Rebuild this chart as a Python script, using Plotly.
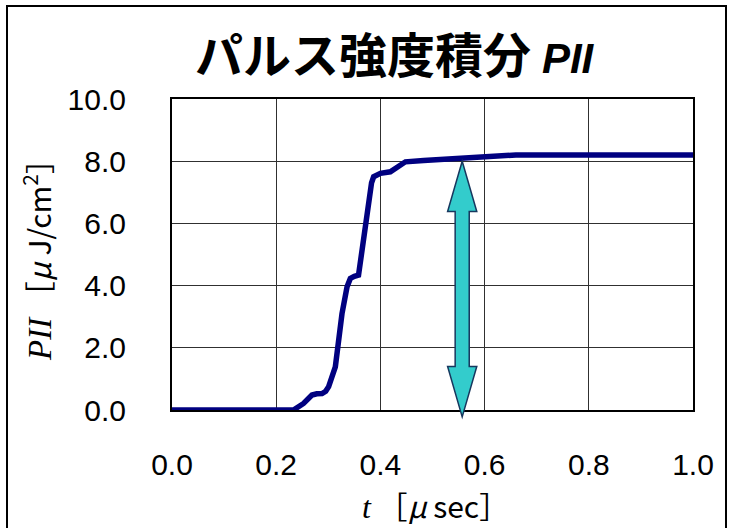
import plotly.graph_objects as go

# ---- data ----
t_usec = [0.0, 0.233, 0.2525, 0.262, 0.2686, 0.278, 0.288, 0.295, 0.3007, 0.3135, 0.320,
          0.3263, 0.336, 0.3423, 0.350, 0.358, 0.3648, 0.371, 0.3776, 0.383, 0.387, 0.393,
          0.40, 0.419, 0.432, 0.448, 0.483, 0.535, 0.56, 0.6025, 0.64, 0.66, 0.8, 1.0]
pii = [0.0, 0.0, 0.21, 0.38, 0.48, 0.52, 0.53, 0.60, 0.75, 1.39, 2.25,
       3.10, 3.96, 4.23, 4.30, 4.34, 5.14, 6.00, 6.86, 7.30, 7.50, 7.57,
       7.61, 7.66, 7.82, 7.98, 8.02, 8.06, 8.09, 8.14, 8.18, 8.20, 8.20, 8.20]

x_ticks = [0.0, 0.2, 0.4, 0.6, 0.8, 1.0]
x_tick_labels = ["0.0", "0.2", "0.4", "0.6", "0.8", "1.0"]
y_ticks = [0, 2, 4, 6, 8, 10]
y_tick_labels = ["0.0", "2.0", "4.0", "6.0", "8.0", "10.0"]

x_range = [0.0, 1.0]
y_range = [0.0, 10.0]

# double arrow annotation (data units)
arrow_t = 0.557
arrow_top = 8.0
arrow_bottom = -0.22
arrow_head_len = 1.62
arrow_head_halfw = 0.028
arrow_shaft_halfw = 0.0135

W, H = 731, 528
L, R, T, B = 172, 38, 99, 118
pw, ph = W - L - R, H - T - B

fig = go.Figure()
fig.add_trace(go.Scatter(x=t_usec, y=pii, mode="lines",
                         line=dict(color="#000080", width=5.5), hoverinfo="skip",
                         showlegend=False))

def dx(v):
    return (v - x_range[0]) / (x_range[1] - x_range[0])

def dy(v):
    return (v - y_range[0]) / (y_range[1] - y_range[0])

pts = [
    (arrow_t, arrow_top),
    (arrow_t + arrow_head_halfw, arrow_top - arrow_head_len),
    (arrow_t + arrow_shaft_halfw, arrow_top - arrow_head_len),
    (arrow_t + arrow_shaft_halfw, arrow_bottom + arrow_head_len),
    (arrow_t + arrow_head_halfw, arrow_bottom + arrow_head_len),
    (arrow_t, arrow_bottom),
    (arrow_t - arrow_head_halfw, arrow_bottom + arrow_head_len),
    (arrow_t - arrow_shaft_halfw, arrow_bottom + arrow_head_len),
    (arrow_t - arrow_shaft_halfw, arrow_top - arrow_head_len),
    (arrow_t - arrow_head_halfw, arrow_top - arrow_head_len),
]
path = "M " + " L ".join(f"{dx(a):.5f},{dy(b):.5f}" for a, b in pts) + " Z"

shapes = [
    dict(type="path", xref="x domain", yref="y domain", path=path,
         fillcolor="#33CCCC", line=dict(color="#17375E", width=1.5), layer="above"),
    # outer frame
    dict(type="rect", xref="paper", yref="paper",
         x0=(7 - L) / pw, x1=(726 - L) / pw,
         y0=(T + ph - 540) / ph, y1=(T + ph - 6) / ph,
         line=dict(color="black", width=2), fillcolor="rgba(0,0,0,0)", layer="below"),
]

jp = "Noto Sans CJK JP"
serif = "'Liberation Serif'"
annotations = [
    dict(xref="paper", yref="paper", x=(395 - L) / pw, y=(T + ph - 52) / ph,
         xanchor="center", yanchor="middle", showarrow=False,
         text="<b>パルス強度積分 </b><span style=\"font-family:'Liberation Sans';font-size:42px\"><b><i>PII</i></b></span>",
         font=dict(family=jp, size=48, color="black")),
    dict(xref="paper", yref="paper", x=(435 - L) / pw, y=(T + ph - 505) / ph,
         xanchor="center", yanchor="middle", showarrow=False,
         text=f"<span style=\"font-family:{serif};font-size:32px\"><i>t</i></span> ［<i>μ</i> sec］",
         font=dict(family=jp, size=30, color="black")),
    dict(xref="paper", yref="paper", x=(37 - L) / pw, y=(T + ph - 253) / ph,
         xanchor="center", yanchor="middle", showarrow=False, textangle=-90,
         text=f"<span style=\"font-family:{serif};font-size:33px\"><i>PII</i></span> ［<i>μ</i> J/cm<sup>2</sup>］",
         font=dict(family=jp, size=30, color="black")),
]

fig.update_layout(
    width=W, height=H,
    margin=dict(l=L, r=R, t=T, b=B),
    paper_bgcolor="white", plot_bgcolor="white",
    shapes=shapes, annotations=annotations,
    xaxis=dict(range=x_range, tickvals=x_ticks, ticktext=x_tick_labels,
               showgrid=True, gridcolor="#303030", gridwidth=1,
               showline=True, linecolor="black", linewidth=2, mirror=True,
               zeroline=False, ticks="", ticklabelstandoff=27,
               tickfont=dict(family="Liberation Sans", size=30, color="black")),
    yaxis=dict(range=y_range, tickvals=y_ticks, ticktext=y_tick_labels,
               showgrid=True, gridcolor="#303030", gridwidth=1,
               showline=True, linecolor="black", linewidth=2, mirror=True,
               zeroline=False, ticks="", ticklabelstandoff=38,
               tickfont=dict(family="Liberation Sans", size=30, color="black")),
)

fig.write_html("out.html", config={"displayModeBar": False},
               post_script="document.body.style.margin='0';document.body.style.overflow='hidden';")
